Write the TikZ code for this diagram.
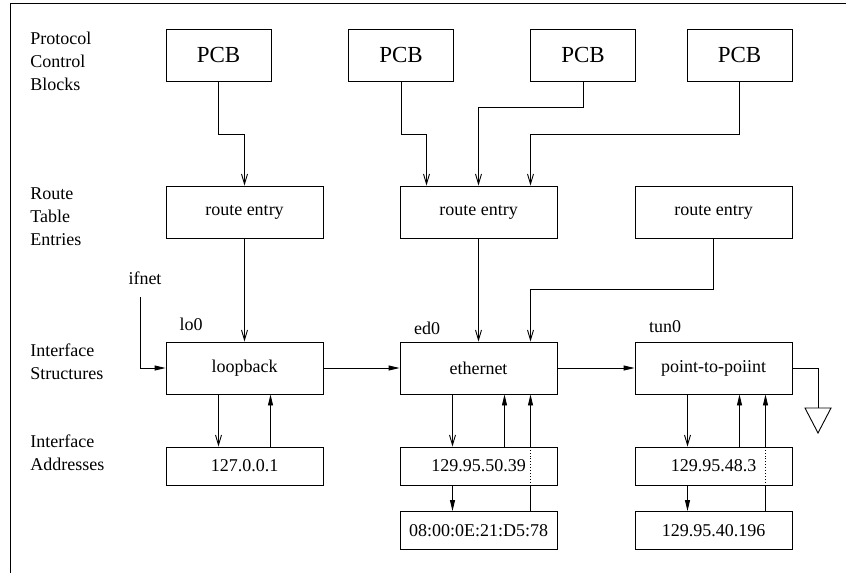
\documentclass[tikz,border=0pt]{standalone}
\usepackage{fontspec}
\setmainfont{Liberation Serif}
\usetikzlibrary{positioning,arrows.meta}

\begin{document}
\begin{tikzpicture}[x=1pt,y=-1pt,line width=0.9pt,
        pcbbox/.style={draw,minimum width=105pt,minimum height=52pt,inner sep=0pt,font=\fontsize{23}{25}\selectfont},
        box/.style={draw,minimum width=157pt,minimum height=52pt,inner sep=0pt,font=\fontsize{18}{20}\selectfont},
        addr/.style={draw,minimum width=157pt,minimum height=38pt,inner sep=0pt,font=\fontsize{18}{20}\selectfont},
        lbl/.style={anchor=west,align=left,inner sep=0pt,font=\fontsize{18}{23}\selectfont},
        tag/.style={inner sep=0pt,font=\fontsize{18}{20}\selectfont},
        opentip/.style={-{Straight Barb[length=10pt,width=6pt]}},
        filltip/.style={-{Triangle[length=11pt,width=5pt]}}]
            \useasboundingbox (0,0) rectangle (846,573);
            \draw (10,573) -- (10,3) -- (846,3);

            % row titles
            \node [lbl] (tPCB) at (30,61) {Protocol\\Control\\Blocks};
            \node [lbl] (tRT) at (30,217) {Route\\Table\\Entries};
            \node [lbl] (tIS) at (30,362) {Interface\\Structures};
            \node [lbl] (tIA) at (30,453) {Interface\\Addresses};

            \node [pcbbox] (pcb1) at (218.5,55) {PCB};
            \node [pcbbox] (pcb2) at (401,55) {PCB};
            \node [pcbbox] (pcb3) at (583,55) {PCB};
            \node [pcbbox] (pcb4) at (739.5,55) {PCB};

            \node [box] (re1) at (244.5,212) {route entry};
            \node [box] (re2) at (478.5,212) {route entry};
            \node [box] (re3) at (713.5,212) {route entry};

            \node [box] (lo) at (244.5,368) {loopback};
            \node [box] (eth) at (478.5,368) {ethernet};
            \node [box] (ptp) at (713.5,368) {point-to-poiint};
            \node [tag] (lo0) at (191,324) {lo0};
            \node [tag] (ed0) at (427,328) {ed0};
            \node [tag] (tun0) at (665,327) {tun0};
            \node [tag] (ifnet) at (145,278) {ifnet};
            \coordinate (ifn) at (140,297);
            \coordinate (gnd) at (818,408);

            \node [addr] (a1) at (244.5,466) {127.0.0.1};
            \node [addr] (a2) at (478.5,466) {129.95.50.39};
            \node [addr] (a3) at (713.5,466) {129.95.48.3};
            \node [addr] (b2) at (478.5,530.5) {08:00:0E:21:D5:78};
            \node [addr] (b3) at (713.5,530.5) {129.95.40.196};

            \draw [opentip] (pcb1.south) -- ++(0,53) -| (re1.north);
            \draw [opentip] (pcb2.south) -- ++(0,53) -| ([xshift=-52pt]re2.north);
            \draw [opentip] (pcb3.south) -- ++(0,26) -| (re2.north);
            \draw [opentip] (pcb4.south) -- ++(0,53) -| ([xshift=52pt]re2.north);

            \draw [opentip] (re1) -- (lo);
            \draw [opentip] (re2) -- (eth);
            \draw [opentip] (re3.south) -- ++(0,51) -| ([xshift=52pt]eth.north);

            \draw [filltip] (ifn) |- (lo.west);
            \draw [filltip] (lo) -- (eth);
            \draw [filltip] (eth) -- (ptp);
            \draw (ptp.east) -| (gnd);
            \draw (gnd) +(-13,0) -- +(13,0) -- +(0,25) -- cycle;

            \draw [opentip] ([xshift=-26pt]lo.south) -- ([xshift=-26pt]a1.north);
            \draw [filltip] ([xshift=26pt]a1.north) -- ([xshift=26pt]lo.south);

            \draw [opentip] ([xshift=-26pt]eth.south) -- ([xshift=-26pt]a2.north);
            \draw [filltip] ([xshift=26pt]a2.north) -- ([xshift=26pt]eth.south);
            \draw [filltip] ([xshift=-26pt]a2.south) -- ([xshift=-26pt]b2.north);
            \draw ([xshift=52pt]b2.north) -- ([xshift=52pt]a2.south);
            \draw [dotted] ([xshift=52pt]a2.south) -- ([xshift=52pt]a2.north);
            \draw [filltip] ([xshift=52pt]a2.north) -- ([xshift=52pt]eth.south);

            \draw [opentip] ([xshift=-26pt]ptp.south) -- ([xshift=-26pt]a3.north);
            \draw [filltip] ([xshift=26pt]a3.north) -- ([xshift=26pt]ptp.south);
            \draw [filltip] ([xshift=-26pt]a3.south) -- ([xshift=-26pt]b3.north);
            \draw ([xshift=52pt]b3.north) -- ([xshift=52pt]a3.south);
            \draw [dotted] ([xshift=52pt]a3.south) -- ([xshift=52pt]a3.north);
            \draw [filltip] ([xshift=52pt]a3.north) -- ([xshift=52pt]ptp.south);
        \end{tikzpicture}
\end{document}
